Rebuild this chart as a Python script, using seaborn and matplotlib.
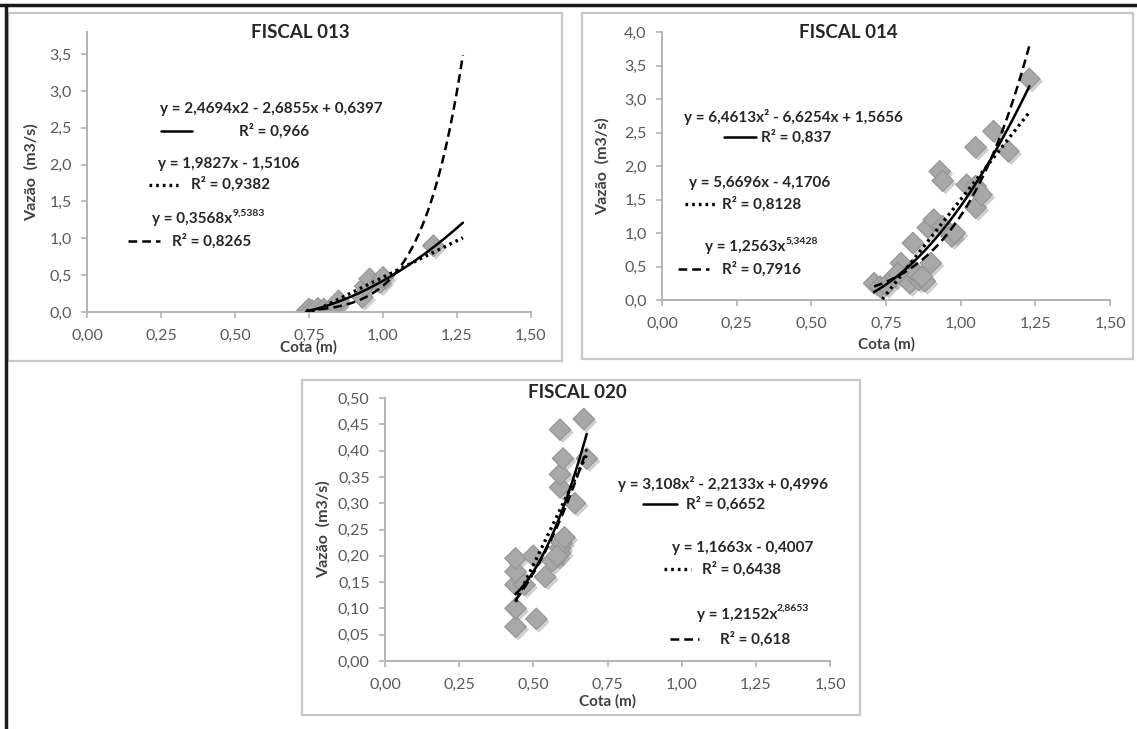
import numpy as np
import matplotlib
matplotlib.use("Agg")
import matplotlib.pyplot as plt
import seaborn as sns
from matplotlib import patheffects as pe
from matplotlib.lines import Line2D
from matplotlib.patches import Rectangle

# ---- data ----
# FISCAL 013
x013 = [0.74, 0.75, 0.76, 0.78, 0.80, 0.84, 0.85, 0.93, 0.94, 0.955, 0.99, 1.00, 1.17]
y013 = [0.00, 0.04, 0.02, 0.05, 0.04, 0.10, 0.15, 0.20, 0.35, 0.45, 0.40, 0.47, 0.90]
poly013 = [2.4694, -2.6855, 0.6397]
lin013 = [1.9827, -1.5106]
pow013 = [0.3568, 9.5383]
span013 = [0.74, 1.27]

# FISCAL 014
x014 = [0.71, 0.73, 0.75, 0.78, 0.80, 0.82, 0.83, 0.84, 0.85, 0.86, 0.88, 0.89,
        0.90, 0.91, 0.93, 0.94, 0.94, 0.97, 0.98, 1.02, 1.05, 1.05, 1.05, 1.07,
        1.11, 1.16, 1.23, 0.84, 0.87, 0.79]
y014 = [0.25, 0.20, 0.22, 0.35, 0.55, 0.30, 0.25, 0.85, 0.40, 0.30, 0.28, 1.08,
        0.55, 1.20, 1.92, 1.78, 1.10, 0.95, 1.00, 1.72, 2.28, 1.38, 1.70, 1.57,
        2.52, 2.22, 3.30, 0.45, 0.35, 0.40]
poly014 = [6.4613, -6.6254, 1.5656]
lin014 = [5.6696, -4.1706]
pow014 = [1.2563, 5.3428]
span014 = [0.71, 1.23]

# FISCAL 020
x020 = [0.44, 0.44, 0.44, 0.44, 0.44, 0.47, 0.50, 0.51, 0.54, 0.565, 0.59,
        0.59, 0.595, 0.59, 0.59, 0.59, 0.60, 0.64, 0.67, 0.68, 0.605, 0.58]
y020 = [0.065, 0.10, 0.145, 0.17, 0.195, 0.145, 0.20, 0.08, 0.16, 0.19, 0.205,
        0.215, 0.225, 0.33, 0.355, 0.44, 0.385, 0.30, 0.46, 0.385, 0.235, 0.20]
poly020 = [3.108, -2.2133, 0.4996]
lin020 = [1.1663, -0.4007]
pow020 = [1.2152, 2.8653]
span020 = [0.44, 0.68]

W, H = 1137, 729
sns.set_theme(style="white")
plt.rcParams['font.family'] = ['Lato', 'DejaVu Sans']

fig = plt.figure(figsize=(W / 100, H / 100), dpi=100)


def fx(px):
    return px / W


def fy(py):
    return 1 - py / H


DOT = (0, (0.8, 1.2))
DASH = (0, (3.5, 2.0))
TICK_GRAY = '#595959'
AXIS_GRAY = '#b3b3b3'
TXT = '#262626'


def panel(rect, xs, ys, poly, lin, pw, span, ylim, yticks, yfmt, title, title_xy,
          xlab_y, ylab_x, texts):
    l, r, t, b = rect
    ax = fig.add_axes([fx(l), fy(b), (r - l) / W, (b - t) / H])
    pts = sns.scatterplot(x=xs, y=ys, marker='D', s=120, color='#a8a8a8',
                          edgecolor='#939393', linewidth=0.8, ax=ax, zorder=2)
    pts.collections[0].set_path_effects([
        pe.SimplePatchShadow(offset=(2, -2), shadow_rgbFace='#777777', alpha=0.35),
        pe.Normal()])

    grid = np.linspace(span[0], span[1], 200)
    sns.lineplot(x=grid, y=np.polyval(poly, grid), color='black', lw=1.8,
                 ax=ax, zorder=4)
    sns.lineplot(x=grid, y=np.polyval(lin, grid), color='black', lw=2.4,
                 linestyle=DOT, ax=ax, zorder=4)
    sns.lineplot(x=grid, y=pw[0] * grid ** pw[1], color='black', lw=1.8,
                 linestyle=DASH, ax=ax, zorder=4)

    ax.set_xlim(0, 1.5)
    ax.set_ylim(*ylim)
    ax.set_xticks(np.arange(0, 1.51, 0.25))
    ax.set_yticks(yticks)
    ax.set_xticklabels([f"{v:.2f}".replace('.', ',') for v in np.arange(0, 1.51, 0.25)])
    ax.set_yticklabels([yfmt.format(v).replace('.', ',') for v in yticks])
    for side in ['top', 'right']:
        ax.spines[side].set_visible(False)
    for side in ['left', 'bottom']:
        ax.spines[side].set_color(AXIS_GRAY)
        ax.spines[side].set_linewidth(1.4)
    ax.tick_params(axis='both', direction='out', length=4, width=1.2,
                   color=AXIS_GRAY, labelcolor=TICK_GRAY, labelsize=11.5)
    ax.tick_params(axis='x', pad=8)
    ax.tick_params(axis='y', pad=7)
    ax.tick_params(left=True, bottom=True)
    ax.set_xlabel('')
    ax.set_ylabel('')
    ax.patch.set_alpha(0)

    fig.text(fx(title_xy[0]), fy(title_xy[1]), title, ha='center', va='center',
             fontsize=13.5, fontweight='bold', color=TXT)
    fig.text(fx((l + r) / 2), fy(xlab_y), 'Cota (m)', ha='center', va='center',
             fontsize=11, fontweight='bold', color='#404040')
    fig.text(fx(ylab_x), fy((t + b) / 2), 'Vazão  (m3/s)', ha='center',
             va='center', rotation=90, fontsize=11.5, fontweight='bold',
             color='#404040')

    # trendline labels, placed where the original chart has them
    styles = ['-', DOT, DASH]
    widths = [1.8, 2.4, 1.8]
    for i, (eq, eqx, eqy, sup, lx0, lx1, ly, rtxt, rx) in enumerate(texts):
        te = ax.text(eqx, eqy, eq, fontsize=11, fontweight='bold',
                     color=TXT, va='center', ha='left', clip_on=False)
        if sup:
            ax.annotate(sup, xy=(1.0, 0.95), xycoords=te, fontsize=7.5,
                        fontweight='bold', color=TXT, va='center',
                        ha='left', annotation_clip=False)
        ax.add_line(Line2D([lx0, lx1], [ly, ly], color='black', lw=widths[i],
                           linestyle=styles[i], clip_on=False))
        ax.text(rx, ly, rtxt, fontsize=11, fontweight='bold', color=TXT,
                va='center', ha='left', clip_on=False)
    return ax


panel((87, 531, 32, 312), x013, y013, poly013, lin013, pow013, span013,
      (0, 3.8), np.arange(0, 3.51, 0.5), "{:.1f}", 'FISCAL 013', (300, 33),
      347, 31,
      [("y = 2,4694x2 - 2,6855x + 0,6397", 0.245, 2.755, None, 0.25, 0.355, 2.45, "R² = 0,966", 0.514),
       ("y = 1,9827x - 1,5106", 0.239, 2.01, None, 0.208, 0.306, 1.73, "R² = 0,9382", 0.35),
       ("y = 0,3568x", 0.22, 1.26, "9,5383", 0.14, 0.245, 0.96, "R² = 0,8265", 0.288)])

panel((662, 1110, 32, 300), x014, y014, poly014, lin014, pow014, span014,
      (0, 4.0), np.arange(0, 4.01, 0.5), "{:.1f}", 'FISCAL 014', (848, 33),
      344, 602,
      [("y = 6,4613x² - 6,6254x + 1,5656", 0.073, 2.735, None, 0.206, 0.315, 2.43, "R² = 0,837", 0.333),
       ("y = 5,6696x - 4,1706", 0.09, 1.745, None, 0.076, 0.18, 1.435, "R² = 0,8128", 0.2),
       ("y = 1,2563x", 0.145, 0.785, "5,3428", 0.054, 0.157, 0.46, "R² = 0,7916", 0.2)])

panel((385, 830, 398, 661), x020, y020, poly020, lin020, pow020, span020,
      (0, 0.5), np.arange(0, 0.501, 0.05), "{:.2f}", 'FISCAL 020', (577, 393),
      701, 323,
      [("y = 3,108x² - 2,2133x + 0,4996", 0.786, 0.336, None, 0.87, 0.985, 0.298, "R² = 0,6652", 1.014),
       ("y = 1,1663x - 0,4007", 0.966, 0.214, None, 0.942, 1.032, 0.175, "R² = 0,6438", 1.068),
       ("y = 1,2152x", 1.05, 0.0878, "2,8653", 0.96, 1.06, 0.042, "R² = 0,618", 1.128)])

# chart frames and outer border
for (x0, y0, x1, y1) in [(8, 13, 562, 361), (582, 13, 1133, 359), (302, 380, 860, 715)]:
    fig.add_artist(Rectangle((fx(x0), fy(y1)), (x1 - x0) / W, (y1 - y0) / H,
                             transform=fig.transFigure, fill=False,
                             edgecolor='#c8c8c8', lw=1.6, zorder=0))
fig.add_artist(Line2D([0, 1], [fy(5), fy(5)], transform=fig.transFigure,
                      color='#1a1a1a', lw=2.5))
fig.add_artist(Line2D([fx(6), fx(6)], [0, fy(5)], transform=fig.transFigure,
                      color='#1a1a1a', lw=2.5))

fig.savefig('out.png', dpi=100)
